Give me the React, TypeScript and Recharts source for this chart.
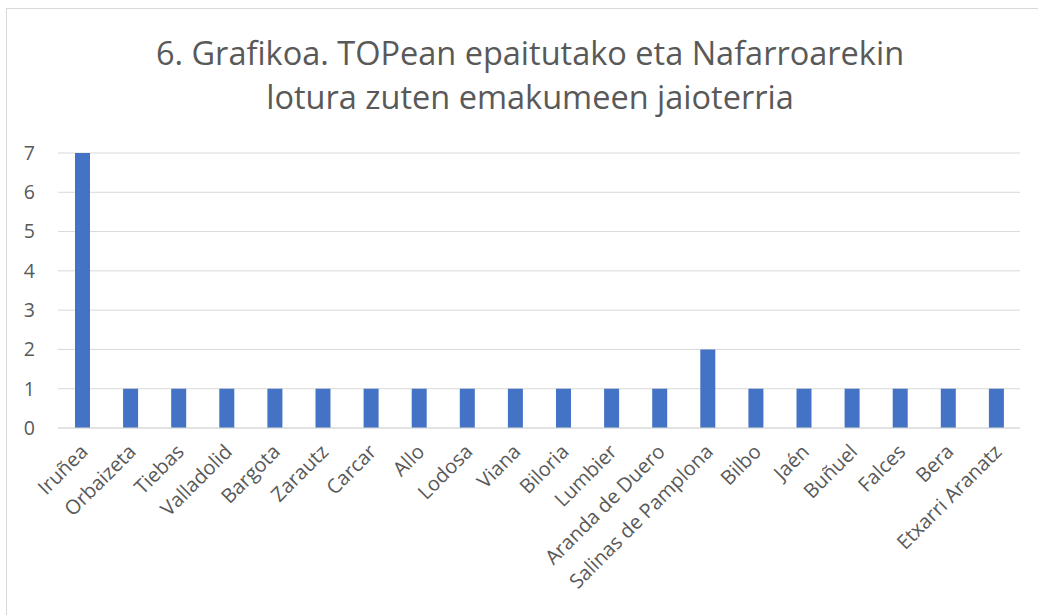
import React from 'react';
import { BarChart, Bar, XAxis, YAxis, CartesianGrid } from 'recharts';

const places = [
  'Iruñea', 'Orbaizeta', 'Tiebas', 'Valladolid', 'Bargota', 'Zarautz', 'Carcar', 'Allo', 'Lodosa', 'Viana',
  'Biloria', 'Lumbier', 'Aranda de Duero', 'Salinas de Pamplona', 'Bilbo', 'Jaén', 'Buñuel', 'Falces', 'Bera', 'Etxarri Aranatz',
];
const counts = [7, 1, 1, 1, 1, 1, 1, 1, 1, 1, 1, 1, 1, 2, 1, 1, 1, 1, 1, 1];
const yTicks = [0, 1, 2, 3, 4, 5, 6, 7];

const data = places.map((name, i) => ({ name, value: counts[i] }));

const FONT = '"Open Sans", Lato, sans-serif';

function AngledTick(props: any) {
  const { x, y, payload } = props;
  const ax = x + 7;
  const ay = y + 17;
  return (
    <text
      x={ax}
      y={ay}
      transform={`rotate(-45, ${ax}, ${ay})`}
      textAnchor="end"
      fontSize={20}
      fontFamily={FONT}
      fill="#595959"
    >
      {payload.value}
    </text>
  );
}

export default function App() {
  return (
    <div
      style={{
        position: 'absolute',
        left: 6,
        top: 8,
        width: 1050,
        height: 620,
        border: '1px solid #d9d9d9',
        background: '#fff',
        fontFamily: FONT,
      }}
    >
      <div
        style={{
          position: 'absolute',
          left: 0,
          top: 22,
          width: 1046,
          textAlign: 'center',
          fontSize: 32.5,
          lineHeight: '44px',
          color: '#595959',
        }}
      >
        6. Grafikoa. TOPean epaitutako eta Nafarroarekin
        <br />
        lotura zuten emakumeen jaioterria
      </div>
      <div style={{ position: 'absolute', left: 0, top: 0 }}>
        <BarChart
          width={1040}
          height={605}
          data={data}
          margin={{ top: 144, right: 27, left: 0, bottom: 36 }}
          barSize={15}
        >
          <CartesianGrid vertical={false} stroke="#d9d9d9" strokeWidth={1} />
          <XAxis
            dataKey="name"
            interval={0}
            height={150}
            axisLine={{ stroke: '#d9d9d9' }}
            tickLine={false}
            tick={<AngledTick />}
          />
          <YAxis
            width={51}
            domain={[0, 7]}
            ticks={yTicks}
            axisLine={false}
            tickLine={false}
            tickMargin={17}
            tick={{ fontSize: 19.5, fill: '#595959', fontFamily: FONT }}
          />
          <Bar dataKey="value" fill="#4472c4" isAnimationActive={false} />
        </BarChart>
      </div>
    </div>
  );
}
